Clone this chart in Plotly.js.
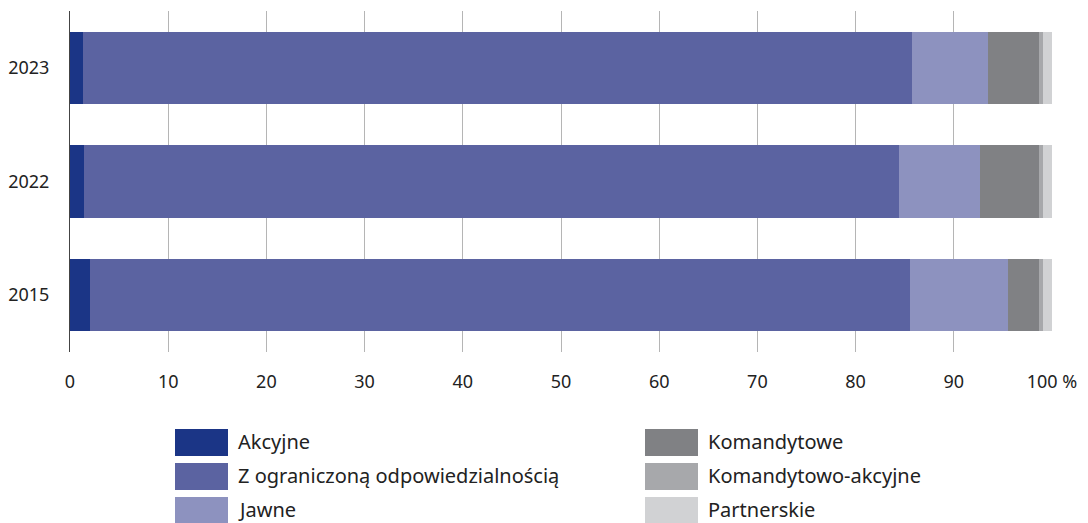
<!DOCTYPE html>
<html><head><meta charset="utf-8">
<script src="https://cdn.plot.ly/plotly-3.0.1.min.js"></script>
<style>html,body{margin:0;padding:0;background:#fff}#chart{width:1088px;height:523px}</style>
</head><body><div id="chart"></div>
<script>
const years = ["2015", "2022", "2023"];
const seriesNames = ["Akcyjne", "Z ograniczoną odpowiedzialnością", "Jawne", "Komandytowe", "Komandytowo-akcyjne", "Partnerskie"];
const akcyjne = [2.0, 1.4, 1.3];
const zoo = [83.5, 83.0, 84.4];
const jawne = [10.0, 8.3, 7.8];
const komandytowe = [3.2, 6.0, 5.2];
const komAkcyjne = [0.4, 0.4, 0.4];
const partnerskie = [0.9, 0.9, 0.9];
const xTickVals = [0, 10, 20, 30, 40, 50, 60, 70, 80, 90, 100];
const xTickText = ["0", "10", "20", "30", "40", "50", "60", "70", "80", "90", "100 %"];
const colors = ["#1b3586", "#5b63a1", "#8d92bf", "#808184", "#a7a8ab", "#d1d2d4"];

const values = [akcyjne, zoo, jawne, komandytowe, komAkcyjne, partnerskie];
const font = "'Noto Sans', sans-serif";

const traces = values.map((v, i) => ({
  type: "bar", orientation: "h", y: years, x: v, name: seriesNames[i],
  marker: {color: colors[i], line: {width: 0}}, showlegend: false, hoverinfo: "x+name"
}));

const shapes = [], annotations = [];
const W = 1088, H = 523, ml = 70, mr = 36, mt = 11, mb = 171;
const pw = W - ml - mr, ph = H - mt - mb;
function px(x) { return (x - ml) / pw; }
function py(y) { return (H - mb - y) / ph; }
seriesNames.forEach((n, i) => {
  const col = Math.floor(i / 3), row = i % 3;
  const x0 = col === 0 ? 175 : 645;
  const y0 = 429 + row * 34;
  shapes.push({type: "rect", xref: "paper", yref: "paper",
    x0: px(x0), x1: px(x0 + 53), y0: py(y0 + 27), y1: py(y0),
    fillcolor: colors[i], line: {width: 0}});
  annotations.push({xref: "paper", yref: "paper", x: px(x0 + 61), y: py(y0 + 12),
    xanchor: "left", yanchor: "middle", showarrow: false, text: n,
    font: {family: font, size: 20, color: "#222"}});
});

const layout = {
  width: W, height: H,
  margin: {l: ml, r: mr, t: mt, b: mb, pad: 0},
  barmode: "stack", bargap: 0.366,
  paper_bgcolor: "#fff", plot_bgcolor: "#fff",
  font: {family: font, size: 18, color: "#222"},
  xaxis: {range: [0, 100], tickvals: xTickVals, ticktext: xTickText,
    showgrid: true, gridcolor: "#b5b5b5", gridwidth: 1, zeroline: false,
    showline: false, ticks: "", ticklabelstandoff: 17, fixedrange: true},
  yaxis: {type: "category", categoryorder: "array", categoryarray: years, showgrid: false,
    zeroline: false, showline: true, linecolor: "#444", linewidth: 1,
    ticks: "", ticklabelstandoff: 16, fixedrange: true},
  shapes: shapes, annotations: annotations, showlegend: false
};
Plotly.newPlot("chart", traces, layout, {displayModeBar: false, staticPlot: true});
</script></body></html>
